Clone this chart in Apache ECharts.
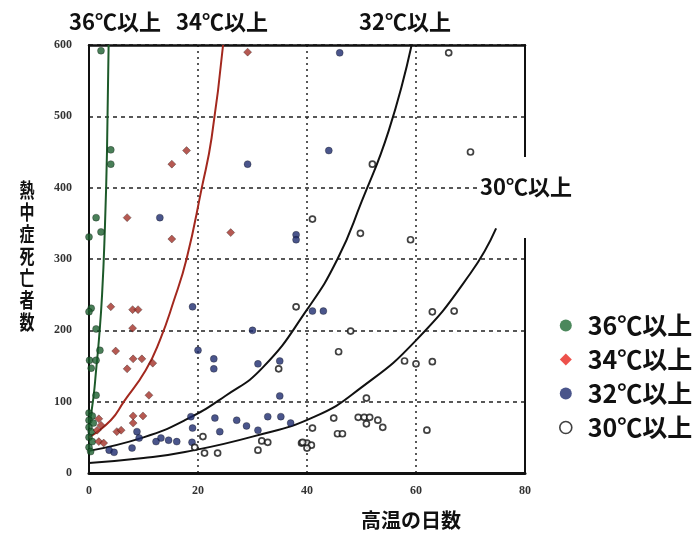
<!DOCTYPE html>
<html>
<head>
<meta charset="utf-8">
<script src="https://cdn.jsdelivr.net/npm/echarts@6/dist/echarts.min.js"></script>
<style>
  html, body { margin: 0; padding: 0; background: #fff; }
  #chart { width: 699px; height: 533px; }
</style>
</head>
<body>
<div id="chart"></div>
<script>
// Axis ranges and tick steps
const xRange = [0, 80];
const xStep = 20;
const yRange = [0, 600];
const yStep = 100;

// Group names (daily maximum temperature thresholds)
const groupNames = ['36℃以上', '34℃以上', '32℃以上', '30℃以上'];
const xTitle = '高温の日数';
const yTitle = '熱中症死亡者数';

// Observations: [number of hot days, heat-stroke deaths]
const pts36 = [
  [2.2, 592], [4.0, 453], [4.0, 433], [1.3, 358], [2.2, 338], [0, 331],
  [0.4, 231], [0, 226], [1.3, 202], [2.0, 172], [0.1, 158], [1.3, 158],
  [0.4, 147], [1.3, 109], [0, 84], [0.6, 80], [0, 74], [0.8, 70],
  [0, 64], [0.4, 58], [0, 50], [0.6, 44], [0, 36], [0.3, 30]
];
const pts34 = [
  [29.1, 590], [17.9, 452], [15.2, 433], [7.0, 358], [15.2, 328], [26.0, 337],
  [4.0, 233], [8.0, 229], [9.0, 229], [8.0, 203], [4.9, 171], [8.1, 160],
  [9.7, 160], [7.0, 146], [11.7, 154], [11.0, 109], [8.1, 80], [9.9, 80],
  [8.1, 70], [5.1, 58], [5.9, 60], [1.8, 76], [2.2, 67], [1.5, 60],
  [1.8, 44], [2.7, 42]
];
const pts32 = [
  [29.1, 433], [46.0, 589], [44.0, 452], [13.0, 358], [38.0, 334], [38.0, 327],
  [19.0, 233], [30.0, 200], [41.0, 227], [43.0, 227], [20.0, 172], [22.9, 160],
  [22.9, 146], [31.0, 153], [35.0, 157], [35.0, 108], [18.7, 79], [23.1, 77],
  [27.1, 74], [28.9, 66], [31.0, 60], [32.8, 79], [35.2, 79], [37.0, 70],
  [24.0, 58], [19.0, 63], [18.9, 43], [16.1, 44], [14.6, 46], [13.2, 49],
  [12.3, 44], [7.9, 35], [8.8, 58], [9.2, 49], [3.7, 32], [4.6, 29]
];
const pts30 = [
  [66.0, 589], [70.0, 450], [52.0, 433], [41.0, 356], [49.8, 336], [59.0, 327],
  [38.0, 233], [63.0, 226], [67.0, 227], [48.0, 199], [45.8, 170], [57.9, 157],
  [60.0, 153], [63.0, 156], [50.9, 105], [44.9, 77], [49.4, 78], [50.5, 78],
  [51.5, 78], [50.9, 69], [53.0, 74], [53.9, 64], [41.0, 63], [45.6, 55],
  [46.5, 55], [39.0, 42], [40.0, 42], [40.8, 39], [40.0, 35], [62.0, 60],
  [34.8, 146], [20.9, 51], [21.2, 28], [23.6, 28], [31.7, 45], [32.8, 43],
  [31.0, 32], [39.2, 43], [19.4, 36]
];

// Fitted trend curves, sampled along each line
const curve36 = [[0, 65], [0.8, 105], [1.3, 144], [1.8, 185], [2.4, 250], [2.9, 340], [3.3, 450], [3.6, 600]];
const curve34 = [[0, 50], [4, 74], [6.4, 100], [10.4, 144], [13, 186], [15.5, 240], [17.9, 300], [20.7, 400], [22.5, 470], [24.6, 600]];
const curve32 = [[0, 31], [10, 50], [17.6, 74], [25, 108], [31.9, 148], [40, 229], [45.6, 300], [50, 380], [55, 480], [59.2, 600]];
const curve30 = [[0, 14], [10, 21], [17.6, 29.5], [30, 51], [41.4, 79], [50, 120], [60, 186], [70, 280], [74.7, 343]];

// Styling
const markerColors = ['#1c5f2e', '#a32f27', '#1d2b6e', '#ffffff'];
const legendColors = ['#1f6a33', '#e8261e', '#1d2b6e', '#ffffff'];
const curveColors = ['#1d5a2a', '#a3281e', '#111111', '#111111'];
const cjkFont = '"Noto Sans CJK JP", "Noto Sans", sans-serif';
const tickFont = '"Liberation Serif", "DejaVu Serif", serif';

const chart = echarts.init(document.getElementById('chart'), null, { renderer: 'canvas' });

const pointSets = [pts36, pts34, pts32, pts30];
const curveSets = [curve36, curve34, curve32, curve30];

const scatterSeries = pointSets.map((pts, i) => ({
  name: groupNames[i],
  type: 'scatter',
  data: pts,
  z: 5,
  symbol: i === 1 ? 'diamond' : 'circle',
  symbolSize: i === 1 ? 8 : (i === 3 ? 6 : 7),
  itemStyle: i === 3
    ? { color: '#ffffff', borderColor: '#111', borderWidth: 1.7 }
    : { color: markerColors[i], borderColor: 'rgba(0,0,0,0.45)', borderWidth: 0.8 }
}));

const lineSeries = curveSets.map((c, i) => ({
  name: groupNames[i] + ' 近似曲線',
  type: 'line',
  data: c,
  z: 3,
  smooth: true,
  symbol: 'none',
  clip: true,
  silent: true,
  lineStyle: { color: curveColors[i], width: 2 }
}));

const titleStyle = { fontSize: 22, fontWeight: 'bold', fontFamily: cjkFont, fill: '#111' };

chart.setOption({
  animation: false,
  backgroundColor: '#ffffff',
  grid: { left: 89, right: 174, top: 45, bottom: 60, containLabel: false },
  xAxis: [
    {
      type: 'value', min: xRange[0], max: xRange[1], interval: xStep,
      axisLine: { show: true, onZero: false, lineStyle: { color: '#111', width: 3 } },
      axisTick: { show: false },
      axisLabel: { margin: 12, fontFamily: tickFont, fontWeight: 'bold', fontSize: 12, color: '#333' },
      splitLine: { show: true, lineStyle: { type: [2, 4], color: '#222', width: 1.5 } }
    },
    {
      type: 'value', position: 'top', min: xRange[0], max: xRange[1], interval: xStep,
      axisLine: { show: true, onZero: false, lineStyle: { color: '#111', width: 2.5 } },
      axisTick: { show: false }, axisLabel: { show: false }, splitLine: { show: false }
    }
  ],
  yAxis: [
    {
      type: 'value', min: yRange[0], max: yRange[1], interval: yStep,
      axisLine: { show: true, onZero: false, lineStyle: { color: '#111', width: 2 } },
      axisTick: { show: false },
      axisLabel: { margin: 17, fontFamily: tickFont, fontWeight: 'bold', fontSize: 12, color: '#333' },
      splitLine: { show: true, lineStyle: { type: [4, 4], color: '#222', width: 1.5 } }
    },
    {
      type: 'value', position: 'right', min: yRange[0], max: yRange[1], interval: yStep,
      axisLine: { show: true, onZero: false, lineStyle: { color: '#111', width: 2 } },
      axisTick: { show: false }, axisLabel: { show: false }, splitLine: { show: false }
    }
  ],
  legend: {
    orient: 'vertical',
    left: 559, top: 313,
    padding: 0,
    itemWidth: 12, itemHeight: 12,
    itemGap: 9, itemTextGap: 16,
    selectedMode: false,
    textStyle: { fontSize: 25, fontWeight: 'bold', fontFamily: cjkFont, color: '#111', lineHeight: 24, padding: [0, 0, 0, 11] },
    data: groupNames.map((n, i) => ({
      name: n,
      icon: i === 1 ? 'diamond' : 'circle',
      itemStyle: i === 3
        ? { color: '#fff', borderColor: '#111', borderWidth: 1.6 }
        : { color: legendColors[i], borderWidth: 0 }
    }))
  },
  graphic: [
    // gap in the right frame behind the 30℃ curve label
    { type: 'rect', z: 100, shape: { x: 520, y: 157, width: 14, height: 81 }, style: { fill: '#fff' } },
    { type: 'text', z: 101, x: 115, y: 22, style: Object.assign({ text: groupNames[0], align: 'center', verticalAlign: 'middle' }, titleStyle) },
    { type: 'text', z: 101, x: 222, y: 22, style: Object.assign({ text: groupNames[1], align: 'center', verticalAlign: 'middle' }, titleStyle) },
    { type: 'text', z: 101, x: 405, y: 22, style: Object.assign({ text: groupNames[2], align: 'center', verticalAlign: 'middle' }, titleStyle) },
    { type: 'text', z: 101, x: 478, y: 187, style: Object.assign({ text: groupNames[3], align: 'left', verticalAlign: 'middle', backgroundColor: '#fff', padding: [2, 2] }, titleStyle) },
    {
      type: 'text', z: 101, x: 27, y: 179, scaleX: 0.75,
      style: { text: yTitle.split('').join('\n'), align: 'center', verticalAlign: 'top', fontSize: 20, lineHeight: 22, fontWeight: 'bold', fontFamily: cjkFont, fill: '#111' }
    },
    {
      type: 'text', z: 101, x: 411, y: 520,
      style: { text: xTitle, align: 'center', verticalAlign: 'middle', fontSize: 20, fontWeight: 'bold', fontFamily: cjkFont, fill: '#111' }
    }
  ],
  series: lineSeries.concat(scatterSeries)
});
</script>
</body>
</html>
